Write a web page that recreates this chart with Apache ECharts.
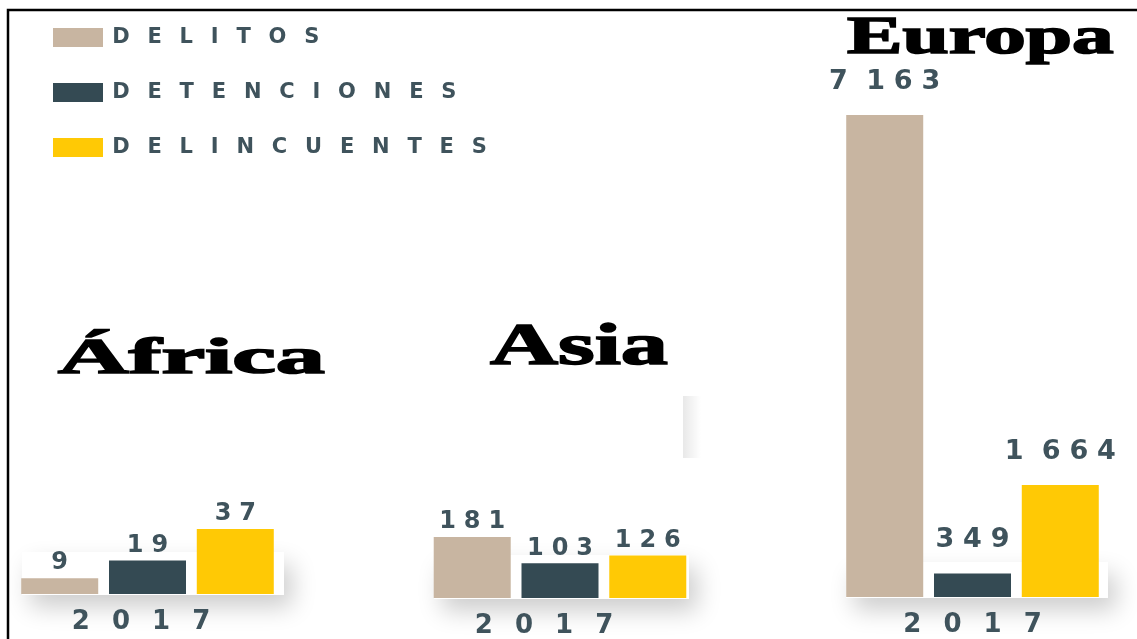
<!DOCTYPE html>
<html>
<head>
<meta charset="utf-8">
<script src="https://cdn.jsdelivr.net/npm/echarts@6.0.0/dist/echarts.min.js"></script>
<style>
  html, body { margin: 0; padding: 0; background: #fff; }
  #myChart { width: 1137px; height: 639px; }
</style>
</head>
<body>
<div id="myChart"></div>
<script>
// datos
const years = ["2017"];
const seriesNames = ["DELITOS", "DETENCIONES", "DELINCUENTES"];
const regions = ["África", "Asia", "Europa"];
const africa = [9, 19, 37];
const asia = [181, 103, 126];
const europa = [7163, 349, 1664];

const values = [africa, asia, europa];
const colors = ["#c8b5a1", "#344a53", "#ffc905"];
const textColor = "#3f535c";

// posicion de cada bloque (grid) en px
const grids = [
  { left: 20, width: 255, top: 529, bottom: 45 },
  { left: 430, width: 260, top: 537, bottom: 40 },
  { left: 843, width: 259, top: 115, bottom: 42 },
];
const yearPad = [[0, 13, 0, 0], [0, 32, 0, 0], [0, 0, 0, 0]];
const labelSize = [24, 24, 27];
const labelDist = [3, 3, 20];

// texto con espacio entre letras
function spaced(v, sep) {
  const s = String(v);
  let out = "";
  for (let i = 0; i < s.length; i++) {
    if (i > 0) out += ((s.length - i) % 3 === 0 ? " " : "") + sep;
    out += s[i];
  }
  return out;
}

let myChart = echarts.init(document.getElementById("myChart"));

const series = [];
values.forEach((vals, r) => {
  vals.forEach((v, s) => {
    series.push({
      name: seriesNames[s],
      type: "bar",
      xAxisIndex: r,
      yAxisIndex: r,
      data: [v],
      barWidth: 77,
      barGap: "14%",
      itemStyle: { color: colors[s] },
      label: {
        show: true,
        position: "top",
        distance: labelDist[r],
        color: textColor,
        fontFamily: "DejaVu Sans",
        fontWeight: "bold",
        fontSize: labelSize[r],
        formatter: (p) => spaced(p.value, "\u2004"),
      },
    });
  });
});

// titulos estirados como en la imagen
const titles = [
  { x: 58, y: 360, size: 50, scaleX: 1.96 },
  { x: 490, y: 348, size: 60, scaleX: 1.57 },
  { x: 847, y: 40, size: 52, scaleX: 1.6 },
];

// cajas blancas con sombra detras de las barras
const boxes = [
  { x: 22, y: 552, width: 262, height: 43 },
  { x: 434, y: 555, width: 255, height: 44 },
  { x: 846, y: 562, width: 262, height: 36 },
];

const graphic = [];
boxes.forEach((b) => {
  graphic.push({
    type: "rect",
    z: 0,
    shape: b,
    style: {
      fill: "#fff",
      shadowBlur: 24,
      shadowColor: "rgba(0,0,0,0.2)",
      shadowOffsetX: 8,
      shadowOffsetY: 12,
    },
  });
});
// franja gris suelta junto a Asia
graphic.push({
  type: "rect",
  z: 0,
  shape: { x: 683, y: 396, width: 18, height: 62 },
  style: {
    fill: new echarts.graphic.LinearGradient(0, 0, 1, 0, [
      { offset: 0, color: "rgba(0,0,0,0.09)" },
      { offset: 1, color: "rgba(0,0,0,0)" },
    ]),
  },
});
titles.forEach((t, i) => {
  graphic.push({
    type: "text",
    x: t.x,
    y: t.y,
    scaleX: t.scaleX,
    z: 5,
    style: {
      text: regions[i],
      fill: "#000",
      stroke: "#000",
      lineWidth: 1.6,
      fontFamily: "Liberation Serif",
      fontWeight: "bold",
      fontSize: t.size,
      textAlign: "left",
      align: "left",
      textVerticalAlign: "middle",
      verticalAlign: "middle",
    },
  });
});
// marco
graphic.push({
  type: "polyline",
  z: 5,
  shape: { points: [[8, 639], [8, 10], [1137, 10]] },
  style: { stroke: "#000", lineWidth: 2.5, fill: null },
});

myChart.setOption({
  animation: false,
  backgroundColor: "#fff",
  legend: {
    data: seriesNames,
    orient: "vertical",
    left: 48,
    top: 22,
    itemWidth: 50,
    itemHeight: 19,
    itemGap: 34,
    icon: "rect",
    selectedMode: false,
    formatter: (name) => "\u2009" + name.split("").join("\u2002 "),
    textStyle: {
      color: textColor,
      fontFamily: "DejaVu Sans",
      fontWeight: "bold",
      fontSize: 21,
    },
  },
  grid: grids.map((g) => ({ ...g, containLabel: false })),
  xAxis: grids.map((g, i) => ({
    type: "category",
    gridIndex: i,
    data: years,
    axisLine: { show: false },
    axisTick: { show: false },
    axisLabel: {
      margin: 15,
      color: textColor,
      fontFamily: "DejaVu Sans",
      fontWeight: "bold",
      fontSize: 26,
      padding: yearPad[i],
      formatter: (v) => v.split("").join("\u2002 "),
    },
  })),
  yAxis: grids.map((g, i) => ({
    type: "value",
    gridIndex: i,
    min: 0,
    max: "dataMax",
    show: false,
  })),
  graphic: graphic,
  series: series,
});
</script>
</body>
</html>
